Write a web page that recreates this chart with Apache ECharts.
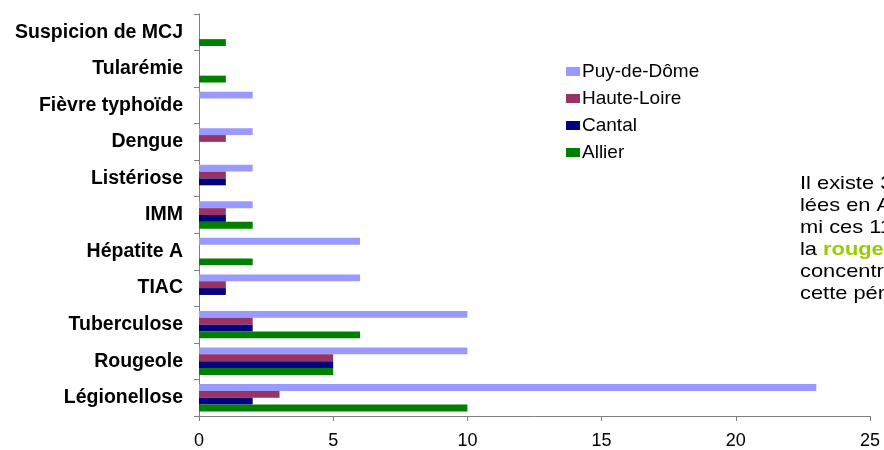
<!DOCTYPE html>
<html><head><meta charset="utf-8">
<script src="https://cdn.jsdelivr.net/npm/echarts@6/dist/echarts.min.js"></script>
<style>html,body{margin:0;padding:0;background:#fff}#c{width:884px;height:450px}</style>
</head><body><div id="c"></div>
<script>
const categories = ['Légionellose','Rougeole','Tuberculose','TIAC','Hépatite A','IMM','Listériose','Dengue','Fièvre typhoïde','Tularémie','Suspicion de MCJ'];
const allier     = [10, 5, 6, 0, 2, 2, 0, 0, 0, 1, 1];
const cantal     = [2, 5, 2, 1, 0, 1, 1, 0, 0, 0, 0];
const hauteLoire = [3, 5, 2, 1, 0, 1, 1, 1, 0, 0, 0];
const puyDeDome  = [23, 10, 10, 6, 6, 2, 2, 2, 2, 0, 0];
const xTicks = [0, 5, 10, 15, 20, 25];

const FF = 'Liberation Sans, Arial, sans-serif';
const chart = echarts.init(document.getElementById('c'), null, {renderer:'canvas'});
const mk = (name, data, color) => ({
  name, type:'bar', data, barGap:'0%', barCategoryGap:'25%',
  itemStyle:{color}, emphasis:{disabled:true}
});
chart.setOption({
  animation:false,
  textStyle:{fontFamily:FF},
  grid:{left:199, right:14, top:14, bottom:33, containLabel:false},
  legend:{
    data:['Puy-de-Dôme','Haute-Loire','Cantal','Allier'],
    orient:'vertical', left:561, top:57, itemWidth:14, itemHeight:9, itemGap:8,
    icon:'rect',
    textStyle:{fontSize:19, color:'#000', fontFamily:FF, padding:[0,0,0,-3]}
  },
  xAxis:{
    type:'value', min:xTicks[0], max:xTicks[xTicks.length-1], interval:5,
    axisLine:{show:true, lineStyle:{color:'#808080'}},
    axisTick:{show:true, length:5, lineStyle:{color:'#808080'}},
    splitLine:{show:false},
    axisLabel:{fontSize:18, color:'#000', margin:16}
  },
  yAxis:{
    type:'category', data:categories,
    axisLine:{show:true, lineStyle:{color:'#808080'}},
    axisTick:{show:true, length:5, lineStyle:{color:'#808080'}},
    axisLabel:{fontSize:19.5, fontWeight:'bold', color:'#000', margin:16}
  },
  series:[
    mk('Puy-de-Dôme', puyDeDome, '#9999ff'),
    mk('Haute-Loire', hauteLoire, '#993366'),
    mk('Cantal', cantal, '#000080'),
    mk('Allier', allier, '#008000')
  ],
  graphic:[{
    type:'text', x:800, y:173, scaleX:1.15,
    style:{
      text:'Il existe 34 MDO signa-\nlées en Auvergne. Par-\nmi ces 11 maladies,\nla {g|rougeole} se\nconcentre sur\ncette période.',
      font:'19px Liberation Sans, Arial, sans-serif', fill:'#000', lineHeight:22,
      rich:{g:{fill:'#99cc00', fontWeight:'bold', fontSize:19, fontFamily:FF, lineHeight:22}}
    }
  }]
});
</script></body></html>
